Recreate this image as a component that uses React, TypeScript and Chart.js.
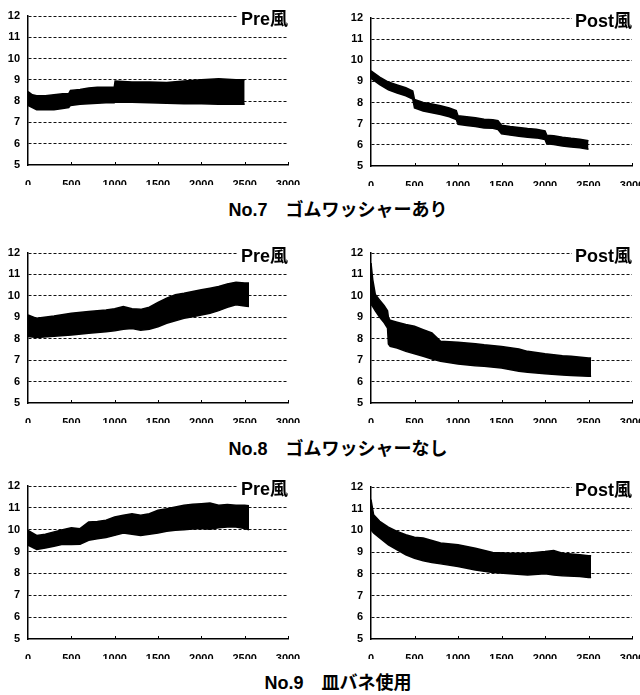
import React, { useEffect, useRef } from "react";
import { Chart, registerables } from "chart.js";
Chart.register(...registerables);

// ---- data ----
const xMin = 0;
const xMax = 3000;
const xStep = 500;
const yMin = 5;
const yMax = 12;
const yStep = 1;

const captions = ["No.7\u3000ゴムワッシャーあり", "No.8\u3000ゴムワッシャーなし", "No.9\u3000皿バネ使用"];
const panelTitles = ["Pre風", "Post風"];

// No.7 Pre
const no7PreX = [0, 50, 100, 200, 300, 400, 470, 490, 600, 700, 800, 900, 995, 1005, 1200, 1400, 1600, 1800, 2000, 2200, 2400, 2500];
const no7PreHi = [8.45, 8.3, 8.25, 8.25, 8.3, 8.35, 8.35, 8.5, 8.55, 8.62, 8.65, 8.65, 8.65, 8.95, 8.9, 8.9, 8.88, 8.95, 9.0, 9.05, 9.0, 9.0];
const no7PreLo = [7.8, 7.7, 7.6, 7.6, 7.6, 7.65, 7.7, 7.8, 7.85, 7.88, 7.9, 7.92, 7.92, 7.95, 7.95, 7.92, 7.9, 7.88, 7.88, 7.85, 7.85, 7.85];

// No.7 Post
const no7PostX = [0, 100, 200, 300, 400, 480, 500, 600, 700, 800, 900, 980, 1000, 1100, 1200, 1300, 1400, 1460, 1500, 1600, 1700, 1800, 1900, 2000, 2020, 2100, 2200, 2300, 2400, 2500];
const no7PostHi = [9.5, 9.2, 8.97, 8.83, 8.7, 8.55, 8.15, 8.0, 7.93, 7.85, 7.74, 7.62, 7.38, 7.33, 7.28, 7.21, 7.19, 7.14, 6.93, 6.87, 6.82, 6.77, 6.74, 6.66, 6.46, 6.43, 6.36, 6.31, 6.27, 6.19];
const no7PostLo = [9.15, 8.85, 8.6, 8.45, 8.32, 8.16, 7.75, 7.6, 7.52, 7.44, 7.33, 7.2, 6.97, 6.92, 6.87, 6.8, 6.78, 6.73, 6.52, 6.46, 6.41, 6.36, 6.33, 6.25, 6.05, 6.02, 5.95, 5.9, 5.86, 5.79];

// No.8 Pre
const no8PreX = [0, 100, 300, 500, 700, 900, 1000, 1100, 1200, 1300, 1400, 1500, 1600, 1700, 1800, 1900, 2000, 2100, 2200, 2300, 2400, 2500, 2550];
const no8PreHi = [9.11, 8.95, 9.06, 9.19, 9.27, 9.34, 9.4, 9.5, 9.4, 9.37, 9.47, 9.69, 9.89, 10.05, 10.12, 10.2, 10.28, 10.36, 10.44, 10.56, 10.64, 10.6, 10.6];
const no8PreLo = [8.1, 8.06, 8.12, 8.17, 8.25, 8.33, 8.37, 8.44, 8.48, 8.4, 8.44, 8.56, 8.72, 8.84, 8.95, 9.03, 9.11, 9.19, 9.31, 9.47, 9.58, 9.53, 9.5];

// No.8 Post
const no8PostX = [0, 20, 50, 100, 150, 190, 200, 220, 300, 400, 500, 600, 700, 800, 1000, 1200, 1300, 1500, 1700, 1800, 2000, 2200, 2300, 2500, 2530];
const no8PostHi = [11.53, 10.76, 10.06, 9.8, 9.55, 9.3, 9.0, 8.86, 8.77, 8.66, 8.58, 8.42, 8.27, 7.88, 7.83, 7.77, 7.72, 7.64, 7.52, 7.41, 7.3, 7.21, 7.18, 7.1, 7.1];
const no8PostLo = [9.6, 9.5, 9.3, 9.0, 8.75, 8.5, 7.75, 7.65, 7.57, 7.41, 7.3, 7.18, 7.05, 6.95, 6.82, 6.74, 6.71, 6.63, 6.48, 6.43, 6.37, 6.31, 6.28, 6.25, 6.25];

// No.9 Pre
const no9PreX = [0, 100, 200, 300, 400, 500, 600, 700, 800, 900, 1000, 1100, 1200, 1300, 1400, 1500, 1600, 1700, 1800, 1900, 2000, 2100, 2200, 2300, 2400, 2500, 2550];
const no9PreHi = [9.97, 9.74, 9.79, 9.9, 10.0, 10.09, 10.05, 10.35, 10.38, 10.43, 10.58, 10.66, 10.73, 10.66, 10.73, 10.89, 10.96, 11.04, 11.12, 11.16, 11.19, 11.22, 11.12, 11.15, 11.12, 11.12, 11.1];
const no9PreLo = [9.29, 9.1, 9.16, 9.24, 9.33, 9.32, 9.33, 9.52, 9.59, 9.64, 9.74, 9.85, 9.79, 9.74, 9.79, 9.85, 9.93, 9.97, 10.0, 10.03, 10.05, 10.02, 10.09, 10.12, 10.12, 10.05, 10.0];

// No.9 Post
const no9PostX = [0, 30, 100, 200, 300, 400, 500, 600, 700, 800, 1000, 1200, 1400, 1600, 1800, 2000, 2100, 2200, 2400, 2500, 2530];
const no9PostHi = [11.42, 10.72, 10.42, 10.15, 9.95, 9.8, 9.69, 9.65, 9.54, 9.42, 9.34, 9.18, 8.98, 8.95, 8.95, 9.03, 9.08, 8.95, 8.88, 8.83, 8.83];
const no9PostLo = [10.03, 9.88, 9.65, 9.34, 9.11, 8.88, 8.72, 8.6, 8.52, 8.46, 8.34, 8.18, 8.06, 8.0, 7.95, 8.0, 7.95, 7.91, 7.88, 7.83, 7.83];

const FONT = '"Liberation Sans", "Noto Sans CJK JP", Arial, sans-serif';

type PanelProps = {
  xs: number[];
  hi: number[];
  lo: number[];
  title: string;
  left: number;
  width: number;
  areaRight: number;
  areaTop: number;
  areaBottom: number;
};

function Panel({ xs, hi, lo, title, left, width, areaRight, areaTop, areaBottom }: PanelProps) {
  const ref = useRef<HTMLCanvasElement | null>(null);
  const canvasTop = areaTop - 16;
  const height = areaBottom - canvasTop + 20;
  const padRight = width - (areaRight - left);

  useEffect(() => {
    const canvas = ref.current;
    if (!canvas) return;
    const titlePlugin = {
      id: "panelTitle",
      afterDraw(chart: any) {
        const { ctx, chartArea } = chart;
        ctx.save();
        // small tick marks on the x axis
        ctx.strokeStyle = "#000";
        ctx.lineWidth = 1;
        const xs2 = chart.scales.x;
        for (let v = xStep; v <= xMax; v += xStep) {
          const px = Math.round(xs2.getPixelForValue(v)) + 0.5;
          ctx.beginPath();
          ctx.moveTo(px, chartArea.bottom);
          ctx.lineTo(px, chartArea.bottom - 3);
          ctx.stroke();
        }
        ctx.font = `bold 18px ${FONT}`;
        const w = ctx.measureText(title).width;
        ctx.fillStyle = "#fff";
        ctx.fillRect(chartArea.right - w - 3, chartArea.top - 5, w + 3, 19);
        ctx.fillStyle = "#000";
        ctx.textAlign = "right";
        ctx.textBaseline = "alphabetic";
        ctx.fillText(title, chartArea.right, chartArea.top + 9);
        ctx.restore();
      },
    };
    const tickFont = { family: FONT, size: 11, weight: "bold" as const };
    const chart = new Chart(canvas, {
      type: "line",
      data: {
        datasets: [
          {
            data: xs.map((x, i) => ({ x, y: hi[i] })),
            borderColor: "#000",
            backgroundColor: "#000",
            borderWidth: 1.5,
            pointRadius: 0,
            fill: "+1",
            tension: 0,
          },
          {
            data: xs.map((x, i) => ({ x, y: lo[i] })),
            borderColor: "#000",
            backgroundColor: "#000",
            borderWidth: 1.5,
            pointRadius: 0,
            fill: false,
            tension: 0,
          },
        ],
      },
      options: {
        animation: false,
        responsive: false,
        maintainAspectRatio: false,
        events: [],
        layout: { padding: { top: 16, left: 0, bottom: 0, right: padRight } },
        plugins: {
          legend: { display: false },
          tooltip: { enabled: false },
          title: { display: false },
        },
        scales: {
          x: {
            type: "linear",
            min: xMin,
            max: xMax,
            ticks: {
              stepSize: xStep,
              color: "#000",
              font: tickFont,
              padding: 5,
              maxRotation: 0,
              autoSkip: false,
              callback: (v: any) => String(v),
            },
            grid: { display: false },
            border: { display: true, color: "#000", width: 1.5 },
            afterFit: (s: any) => {
              s.height = 20;
            },
          },
          y: {
            min: yMin,
            max: yMax,
            ticks: { stepSize: yStep, color: "#000", font: tickFont, padding: 8, callback: (v: any) => String(v) },
            grid: {
              drawTicks: false,
              lineWidth: 1,
              color: (c: any) => (c.tick && c.tick.value === yMin ? "rgba(0,0,0,0)" : "#111"),
            },
            border: { display: true, color: "#000", width: 1.5, dash: [3, 2] },
            afterFit: (s: any) => {
              s.width = 28;
            },
          },
        },
      },
      plugins: [titlePlugin],
    } as any);
    return () => chart.destroy();
  }, [xs, hi, lo, title, padRight]);

  return (
    <canvas
      ref={ref}
      width={width}
      height={height}
      style={{ position: "absolute", left, top: canvasTop, width, height }}
    />
  );
}

const captionStyle = (top: number): React.CSSProperties => ({
  position: "absolute",
  left: 0,
  width: 676,
  top,
  textAlign: "center",
  fontFamily: FONT,
  fontWeight: "bold",
  fontSize: 18,
  lineHeight: "22px",
  color: "#000",
  whiteSpace: "pre",
});

export default function App() {
  return (
    <div
      style={{
        position: "absolute",
        left: 0,
        top: 0,
        width: 640,
        height: 695,
        overflow: "hidden",
        background: "#fff",
      }}
    >
      <Panel xs={no7PreX} hi={no7PreHi} lo={no7PreLo} title={panelTitles[0]} left={0} width={315} areaRight={288} areaTop={16} areaBottom={165} />
      <Panel xs={no7PostX} hi={no7PostHi} lo={no7PostLo} title={panelTitles[1]} left={343} width={320} areaRight={632} areaTop={18} areaBottom={166} />
      <div style={captionStyle(199)}>{captions[0]}</div>

      <Panel xs={no8PreX} hi={no8PreHi} lo={no8PreLo} title={panelTitles[0]} left={0} width={315} areaRight={288} areaTop={253} areaBottom={403} />
      <Panel xs={no8PostX} hi={no8PostHi} lo={no8PostLo} title={panelTitles[1]} left={343} width={320} areaRight={632} areaTop={253} areaBottom={403} />
      <div style={captionStyle(438)}>{captions[1]}</div>

      <Panel xs={no9PreX} hi={no9PreHi} lo={no9PreLo} title={panelTitles[0]} left={0} width={315} areaRight={288} areaTop={486} areaBottom={639} />
      <Panel xs={no9PostX} hi={no9PostHi} lo={no9PostLo} title={panelTitles[1]} left={343} width={320} areaRight={632} areaTop={487} areaBottom={639} />
      <div style={captionStyle(672)}>{captions[2]}</div>
    </div>
  );
}
